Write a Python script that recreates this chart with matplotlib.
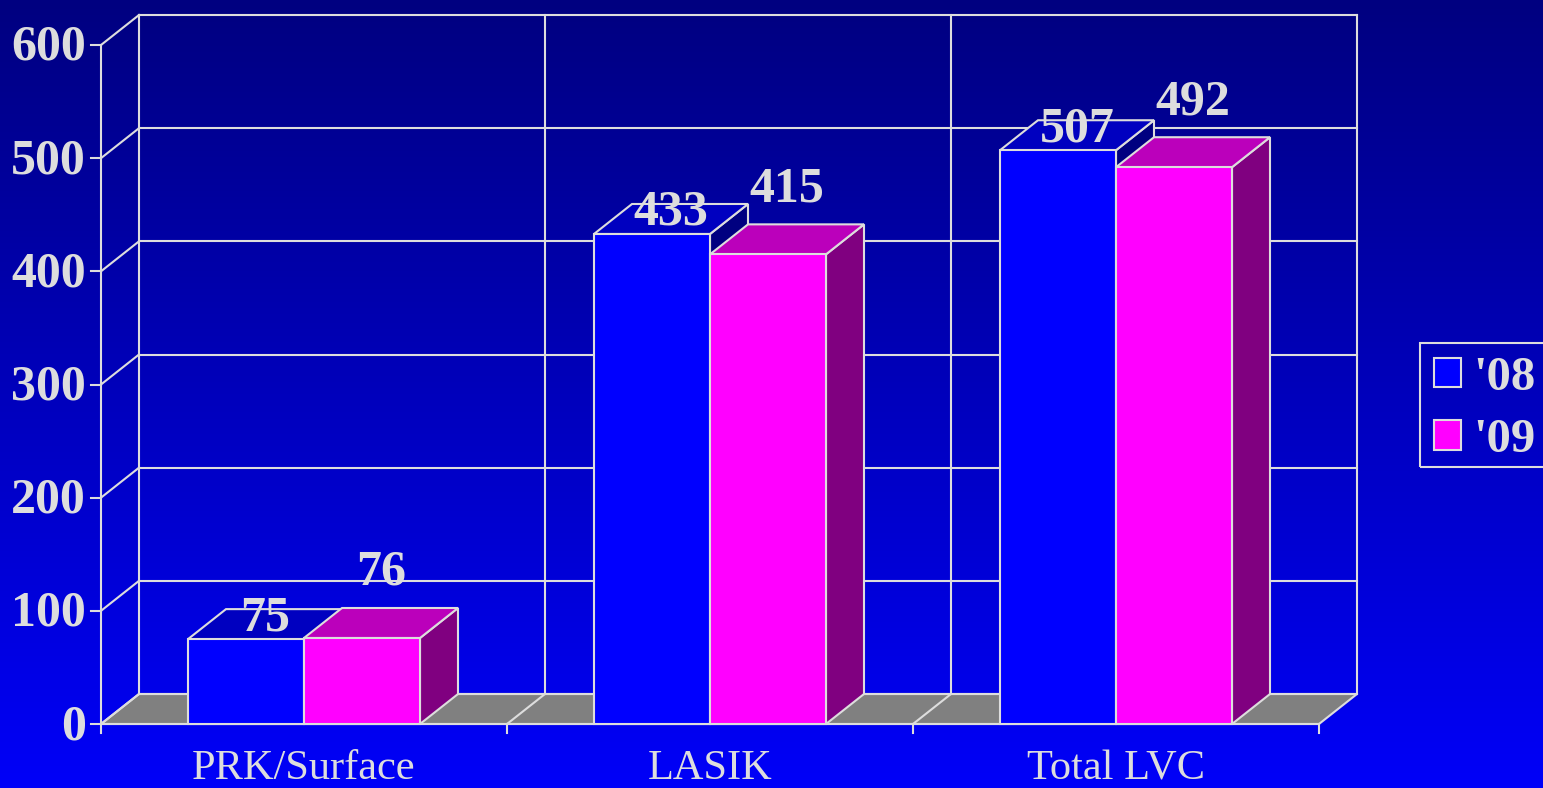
import numpy as np
import matplotlib
matplotlib.use("Agg")
import matplotlib.pyplot as plt
from matplotlib.patches import Polygon, Patch, Rectangle
from matplotlib.colors import LinearSegmentedColormap

# ---- data ----
categories = ["PRK/Surface", "LASIK", "Total LVC"]
series_names = ["'08", "'09"]
values_08 = [75, 433, 507]
values_09 = [76, 415, 492]
y_ticks = [0, 100, 200, 300, 400, 500, 600]

# ---- styling ----
W, H = 1543, 788
fg = "#DDDDDD"
serif = ["Liberation Serif", "DejaVu Serif"]
face_cols = [("#0000FF", "#0000C0", "#000080"), ("#FF00FF", "#BB00BB", "#800080")]

fig = plt.figure(figsize=(W / 100, H / 100), dpi=100)
ax = fig.add_axes([0, 0, 1, 1])

# pixel mapping of the front frame (x: category units, y: value units)
px_x0, px_x3 = 101, 1319
py_y0, py_y600 = 724, 45
sx = (px_x3 - px_x0) / 3.0
sy = (py_y0 - py_y600) / 600.0
xlim = (-px_x0 / sx, (W - px_x0) / sx)
ylim = (-(H - py_y0) / sy, py_y0 / sy)

# gradient background (dark navy at top, bright blue at bottom)
cmap = LinearSegmentedColormap.from_list("bg", ["#000080", "#0000F8"])
grad = np.linspace(0, 1, 256).reshape(-1, 1)
ax.imshow(grad, cmap=cmap, aspect="auto", origin="upper",
          extent=[xlim[0], xlim[1], ylim[0], ylim[1]], zorder=0)
ax.set_xlim(*xlim)
ax.set_ylim(*ylim)
ax.axis("off")

dx = 38 / sx
dy = 30 / sy
ymax = y_ticks[-1]
n = len(categories)
lw = 1.5

# floor
ax.add_patch(Polygon([(0, 0), (n, 0), (n + dx, dy), (dx, dy)], closed=True,
                     facecolor="#808080", edgecolor=fg, lw=lw, zorder=1))
for k in range(1, n):
    ax.plot([k, k + dx], [0, dy], color=fg, lw=lw, zorder=1)

# back wall grid, left wall, y ticks
for v in y_ticks:
    ax.plot([dx, n + dx], [v + dy, v + dy], color=fg, lw=lw, zorder=1)
    ax.plot([0, dx], [v, v + dy], color=fg, lw=lw, zorder=1)
    ax.plot([-10 / sx, 0], [v, v], color=fg, lw=lw, zorder=1)
    ax.text(-15 / sx, v - 3 / sy, str(v), ha="right", va="center", fontsize=36,
            fontweight="bold", family=serif, color=fg)
for k in range(n + 1):
    ax.plot([k + dx, k + dx], [dy, ymax + dy], color=fg, lw=lw, zorder=1)
    ax.plot([k, k], [0, -9 / sy], color=fg, lw=lw, zorder=1)
ax.plot([0, 0], [0, ymax], color=fg, lw=lw, zorder=1)
ax.plot([0, n], [0, 0], color=fg, lw=lw, zorder=1)

# bars
bw = 116 / sx
z = 3
for i, cat in enumerate(categories):
    c = i + 0.5
    for s, vals in enumerate([values_08, values_09]):
        v = vals[i]
        x0 = c - bw + s * bw
        x1 = x0 + bw
        front, top, side = face_cols[s]
        ax.add_patch(Polygon([(x1, 0), (x1 + dx, dy), (x1 + dx, v + dy), (x1, v)],
                             facecolor=side, edgecolor=fg, lw=lw, zorder=z))
        ax.add_patch(Polygon([(x0, v), (x1, v), (x1 + dx, v + dy), (x0 + dx, v + dy)],
                             facecolor=top, edgecolor=fg, lw=lw, zorder=z))
        ax.add_patch(Polygon([(x0, 0), (x1, 0), (x1, v), (x0, v)],
                             facecolor=front, edgecolor=fg, lw=lw, zorder=z))
        z += 1
    ax.text(c, -55 / sy, cat, ha="center", va="baseline", fontsize=30.5,
            family=serif, color=fg, zorder=20)

# value labels
for i in range(n):
    c = i + 0.5
    for s, vals in enumerate([values_08, values_09]):
        v = vals[i]
        xm = c - bw / 2 + s * bw + dx / 2
        off = -6 / sy if s == 0 else 38 / sy
        ax.text(xm, v + dy / 2 + off, str(v), ha="center", va="baseline",
                fontsize=36, fontweight="bold", family=serif, color=fg, zorder=20)

# legend
handles = [Patch(facecolor=face_cols[k][0], edgecolor=fg, lw=lw) for k in range(2)]
leg = fig.legend(handles, series_names, loc="center left",
                 bbox_to_anchor=(1420 / W, 1 - 409 / H), frameon=False,
                 prop={"family": serif, "size": 35, "weight": "bold"},
                 handlelength=0.55, handleheight=0.55, handletextpad=0.26,
                 labelspacing=0.38, borderpad=0.29, borderaxespad=0)
for t in leg.get_texts():
    t.set_color(fg)
fig.patches.append(Rectangle((1420 / W, 1 - 467 / H), 140 / W, 124 / H,
                             transform=fig.transFigure, fill=False,
                             edgecolor=fg, lw=lw))

fig.savefig("out.png", dpi=100)
